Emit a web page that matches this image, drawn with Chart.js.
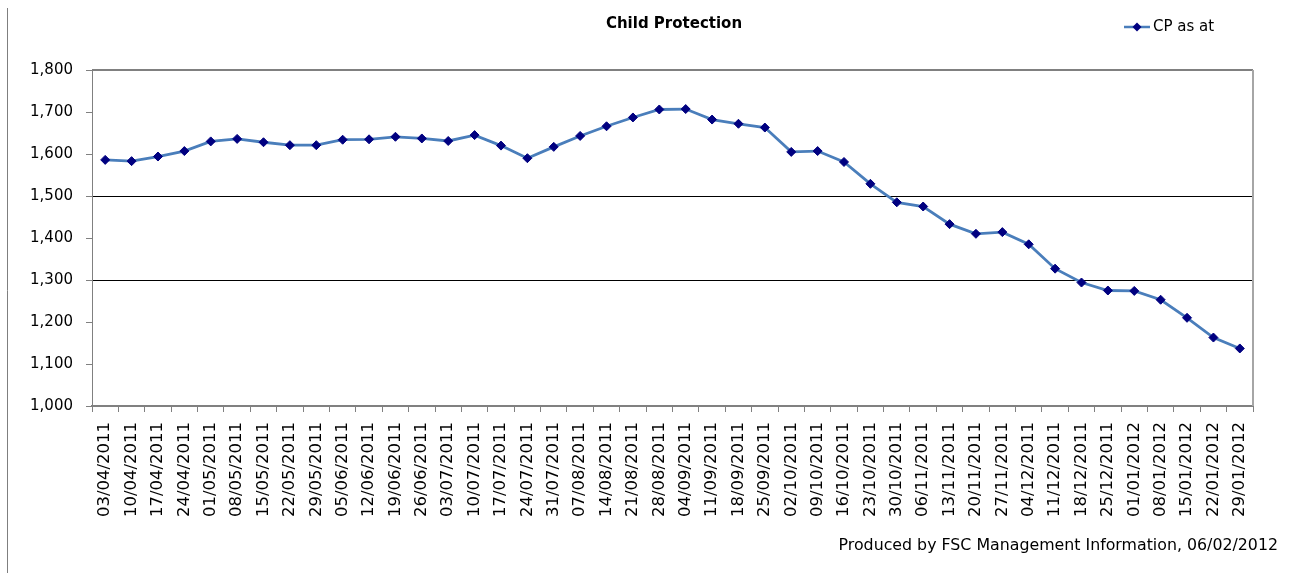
<!DOCTYPE html>
<html>
<head>
<meta charset="utf-8">
<title>Child Protection</title>
<script src="https://cdn.jsdelivr.net/npm/chart.js"></script>
<style>
    html, body { margin: 0; padding: 0; background: #fff; }
    #chart { display: block; }
</style>
</head>
<body>
<canvas id="chart" width="1292" height="573"></canvas>
<script>
// Weekly snapshot dates
const weeks = [
    '03/04/2011', '10/04/2011', '17/04/2011', '24/04/2011',
    '01/05/2011', '08/05/2011', '15/05/2011', '22/05/2011', '29/05/2011',
    '05/06/2011', '12/06/2011', '19/06/2011', '26/06/2011',
    '03/07/2011', '10/07/2011', '17/07/2011', '24/07/2011', '31/07/2011',
    '07/08/2011', '14/08/2011', '21/08/2011', '28/08/2011',
    '04/09/2011', '11/09/2011', '18/09/2011', '25/09/2011',
    '02/10/2011', '09/10/2011', '16/10/2011', '23/10/2011', '30/10/2011',
    '06/11/2011', '13/11/2011', '20/11/2011', '27/11/2011',
    '04/12/2011', '11/12/2011', '18/12/2011', '25/12/2011',
    '01/01/2012', '08/01/2012', '15/01/2012', '22/01/2012', '29/01/2012'
];

// Number of children on a child protection plan
const cpAsAt = [
    1586, 1583, 1594, 1607,
    1630, 1636, 1628, 1621, 1621,
    1634, 1635, 1641, 1637,
    1631, 1645, 1620, 1590, 1617,
    1643, 1666, 1687, 1706,
    1707, 1682, 1672, 1663,
    1605, 1607, 1581, 1529, 1485,
    1475, 1433, 1410, 1414,
    1385, 1327, 1294, 1275,
    1274, 1253, 1210, 1163, 1137
];

// Y axis range and the gridlines that are shown
const yMin = 1000;
const yMax = 1800;
const yStep = 100;
const shownGridValues = [1300, 1500];

const FONT = "'DejaVu Sans', Verdana, sans-serif";
const LINE_COLOR = '#4a7ebb';
const MARKER_COLOR = '#000080';

/**
 * Draws the title, legend, footer and frame lines
 */
const decorations = {
    id: 'decorations',
    beforeDraw(chart) {
        const ctx = chart.ctx;
        ctx.save();
        ctx.fillStyle = '#fff';
        ctx.fillRect(0, 0, chart.width, chart.height);
        // left frame line of the chart object
        ctx.strokeStyle = '#7f7f7f';
        ctx.lineWidth = 1;
        ctx.beginPath();
        ctx.moveTo(7.5, 8);
        ctx.lineTo(7.5, chart.height);
        ctx.stroke();
        ctx.restore();
    },
    afterDraw(chart) {
        const ctx = chart.ctx;
        const area = chart.chartArea;
        ctx.save();

        // top and right border of the plot area
        ctx.lineWidth = 2;
        ctx.strokeStyle = '#808080';
        ctx.beginPath();
        ctx.moveTo(area.left, area.top);
        ctx.lineTo(area.right, area.top);
        ctx.stroke();
        ctx.strokeStyle = '#a6a6a6';
        ctx.beginPath();
        ctx.moveTo(area.right, area.top);
        ctx.lineTo(area.right, area.bottom);
        ctx.stroke();

        // title
        ctx.fillStyle = '#000';
        ctx.font = 'bold 15px ' + FONT;
        ctx.textAlign = 'center';
        ctx.textBaseline = 'middle';
        ctx.fillText('Child Protection', 674, 24);

        // legend
        const ly = 27;
        ctx.strokeStyle = LINE_COLOR;
        ctx.lineWidth = 2.5;
        ctx.beginPath();
        ctx.moveTo(1124, ly);
        ctx.lineTo(1150, ly);
        ctx.stroke();
        ctx.fillStyle = MARKER_COLOR;
        ctx.beginPath();
        ctx.moveTo(1137, ly - 4.5);
        ctx.lineTo(1141.5, ly);
        ctx.lineTo(1137, ly + 4.5);
        ctx.lineTo(1132.5, ly);
        ctx.closePath();
        ctx.fill();
        ctx.fillStyle = '#000';
        ctx.font = '15px ' + FONT;
        ctx.textAlign = 'left';
        ctx.fillText('CP as at', 1153, ly);

        // footer
        ctx.font = '15.8px ' + FONT;
        ctx.textAlign = 'right';
        ctx.fillText('Produced by FSC Management Information, 06/02/2012', 1278, 546);

        ctx.restore();
    }
};

new Chart(document.getElementById('chart'), {
    type: 'line',
    data: {
        labels: weeks,
        datasets: [{
            label: 'CP as at',
            data: cpAsAt,
            borderColor: LINE_COLOR,
            borderWidth: 2.8,
            tension: 0,
            pointStyle: 'rectRot',
            pointRadius: 4.5,
            pointBackgroundColor: MARKER_COLOR,
            pointBorderColor: MARKER_COLOR,
            pointBorderWidth: 1
        }]
    },
    options: {
        responsive: false,
        animation: false,
        events: [],
        layout: {
            padding: { top: 70, right: 39, left: 0, bottom: 0 }
        },
        plugins: {
            legend: { display: false },
            title: { display: false },
            tooltip: { enabled: false }
        },
        scales: {
            x: {
                offset: true,
                grid: {
                    offset: true,
                    drawOnChartArea: false,
                    drawTicks: true,
                    tickLength: 6,
                    color: '#808080'
                },
                border: { color: '#808080', width: 2 },
                ticks: {
                    autoSkip: false,
                    maxRotation: 90,
                    minRotation: 90,
                    padding: 10,
                    color: '#000',
                    font: { family: FONT, size: 16.5 }
                },
                afterFit(scale) {
                    scale.height = 167;
                }
            },
            y: {
                min: yMin,
                max: yMax,
                grid: {
                    drawTicks: true,
                    tickLength: 6,
                    color(ctx) {
                        if (ctx.tick && shownGridValues.includes(ctx.tick.value)) {
                            return '#000';
                        }
                        return 'rgba(0,0,0,0)';
                    },
                    tickColor: '#808080'
                },
                border: { color: '#808080', width: 1 },
                ticks: {
                    stepSize: yStep,
                    padding: 13,
                    color: '#000',
                    font: { family: FONT, size: 15 },
                    callback: function(value) {
                        return value.toLocaleString('en-GB');
                    }
                },
                afterFit(scale) {
                    scale.width = 92;
                }
            }
        }
    },
    plugins: [decorations]
});
</script>
</body>
</html>
